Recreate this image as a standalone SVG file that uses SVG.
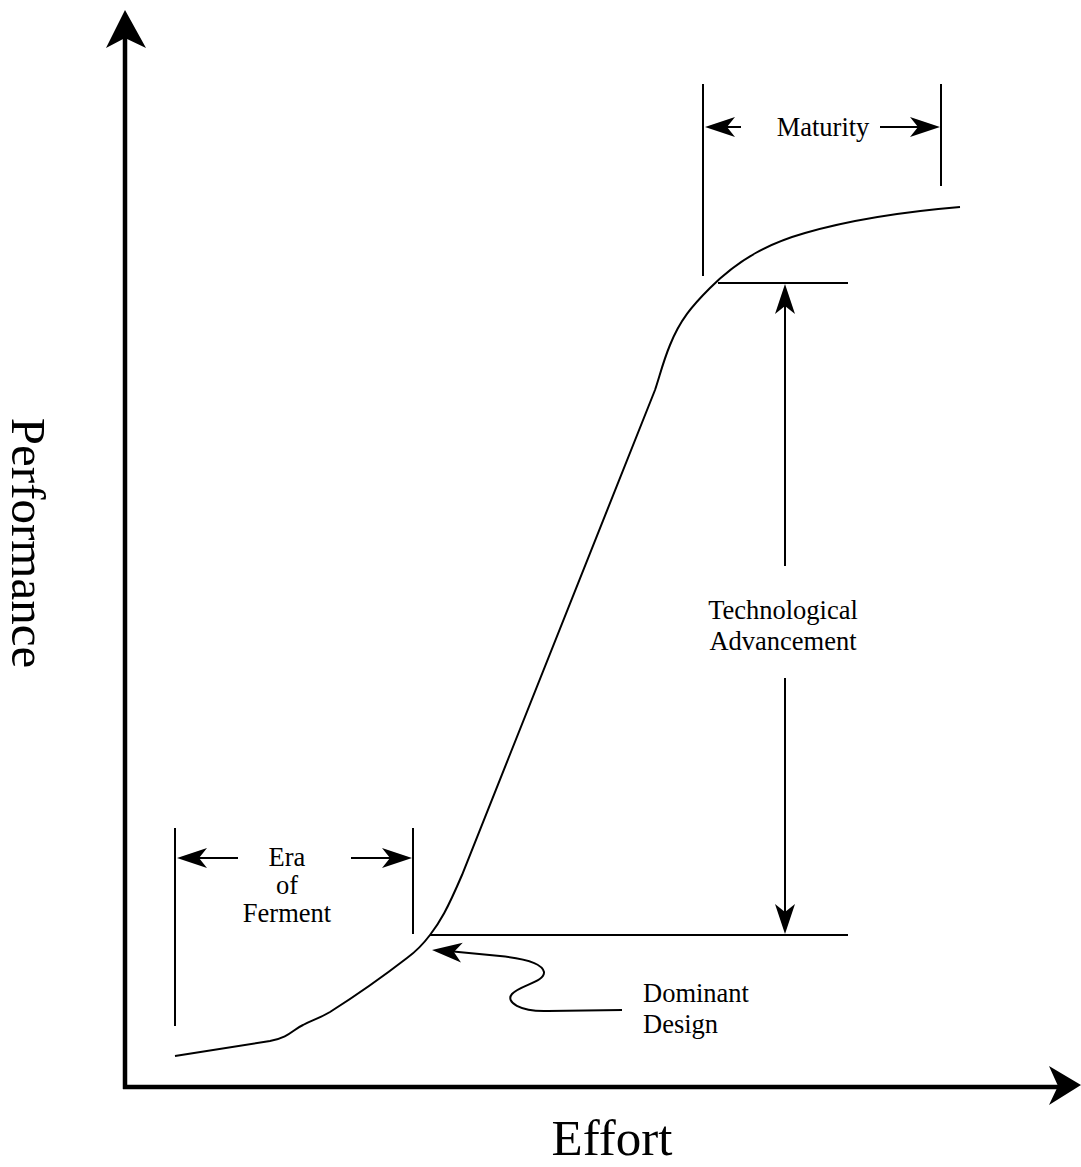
<svg xmlns="http://www.w3.org/2000/svg" width="1081" height="1167" viewBox="0 0 1081 1167">
  <style>
    .ln { stroke: #000; stroke-width: 2; fill: none; }
    .axis { stroke: #000; stroke-width: 4.5; fill: none; }
    .lbl { font-family: "Liberation Serif", "Times New Roman", serif; font-size: 26.5px; fill: #000; text-anchor: middle; }
    .big { font-family: "Liberation Serif", "Times New Roman", serif; fill: #000; text-anchor: middle; }
    .head { fill: #000; stroke: none; }
  </style>
  <defs>
    <!-- small dimension arrowhead, pointing along +x, tip at origin -->
    <path id="tip" d="M0,0 L-30,-10 L-22,0 L-30,10 Z"/>
  </defs>
  <rect width="1081" height="1167" fill="#fff"/>

  <!-- axes -->
  <g id="axes">
    <line class="axis" x1="125" y1="30" x2="125" y2="1089"/>
    <line class="axis" x1="123" y1="1087" x2="1062" y2="1087"/>
    <path class="head" d="M125,10 L146,48 L125,38 L106,48 Z"/>
    <path class="head" d="M1081,1085 L1049,1105 L1058,1086 L1049,1066 Z"/>
  </g>

  <g id="axis-labels">
    <text class="big" x="612" y="1155" font-size="51">Effort</text>
    <text class="big" font-size="49" transform="translate(12,543) rotate(90)">Performance</text>
  </g>

  <!-- S-curve -->
  <g id="s-curve">
    <path class="ln" d="M175,1056 L270,1041 C290,1037 292,1030 303,1025 C312,1020 318,1019 330,1012 C360,993 385,975 407,958 C418,950 424,943 430,935 C440,922 447,910 462,875 L655,390 C660,375 663,362 670,345 C680,320 692,306 710,288 C740,258 770,243 805,233 C850,220 900,212 960,207"/>
  </g>

  <!-- Maturity span -->
  <g id="maturity">
    <line class="ln" x1="703" y1="84" x2="703" y2="276"/>
    <line class="ln" x1="941" y1="84" x2="941" y2="186"/>
    <line class="ln" x1="720" y1="127" x2="741" y2="127"/>
    <line class="ln" x1="880" y1="127" x2="925" y2="127"/>
    <use href="#tip" class="head" transform="translate(705,127) rotate(180)"/>
    <use href="#tip" class="head" transform="translate(940,127)"/>
    <text class="lbl" x="823" y="136">Maturity</text>
  </g>

  <!-- Technological advancement span -->
  <g id="advancement">
    <line class="ln" x1="718" y1="283" x2="848" y2="283"/>
    <line class="ln" x1="430" y1="935" x2="848" y2="935"/>
    <line class="ln" x1="785" y1="300" x2="785" y2="566"/>
    <line class="ln" x1="785" y1="678" x2="785" y2="918"/>
    <use href="#tip" class="head" transform="translate(785,284) rotate(-90)"/>
    <use href="#tip" class="head" transform="translate(785,934) rotate(90)"/>
    <text class="lbl" x="783" y="619">Technological</text>
    <text class="lbl" x="783" y="650">Advancement</text>
  </g>

  <!-- Era of ferment span -->
  <g id="ferment">
    <line class="ln" x1="175" y1="828" x2="175" y2="1026"/>
    <line class="ln" x1="413" y1="828" x2="413" y2="934"/>
    <line class="ln" x1="192" y1="858" x2="238" y2="858"/>
    <line class="ln" x1="351" y1="858" x2="396" y2="858"/>
    <use href="#tip" class="head" transform="translate(177,858) rotate(180)"/>
    <use href="#tip" class="head" transform="translate(412,858)"/>
    <text class="lbl" x="287" y="866">Era</text>
    <text class="lbl" x="287" y="894">of</text>
    <text class="lbl" x="287" y="922">Ferment</text>
  </g>

  <!-- Dominant design pointer -->
  <g id="dominant-design">
    <path class="ln" d="M622,1010 L548,1011 C520,1012 505,1002 512,994 C520,985 545,982 544,972 C542,962 520,958 500,956 L448,951"/>
    <use href="#tip" class="head" transform="translate(432,950) rotate(-175)"/>
    <text class="lbl" x="643" y="1002" style="text-anchor:start">Dominant</text>
    <text class="lbl" x="643" y="1033" style="text-anchor:start">Design</text>
  </g>
</svg>
